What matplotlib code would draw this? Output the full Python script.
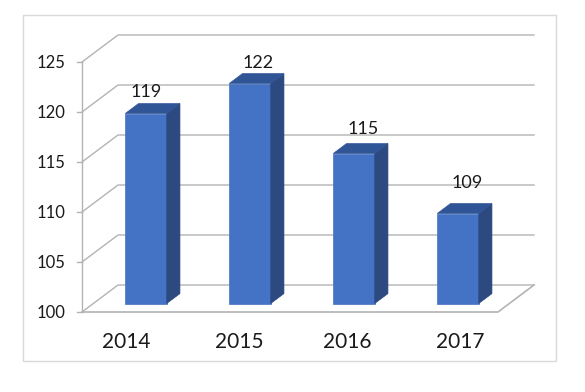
import matplotlib
matplotlib.use('Agg')
import matplotlib.pyplot as plt
from matplotlib.patches import Polygon, Rectangle

plt.rcParams['font.family'] = ['Lato', 'DejaVu Sans']

years = ['2014', '2015', '2016', '2017']
values = [119, 122, 115, 109]
y_ticks = [100, 105, 110, 115, 120, 125]

W, H = 585, 392
fig = plt.figure(figsize=(W / 100, H / 100), dpi=100)
fig.add_artist(Rectangle((22.5 / W, 1 - 361 / H), 533.5 / W, 346 / H, transform=fig.transFigure,
                         facecolor='white', edgecolor='#d9d9d9', linewidth=1, zorder=-1))

# front plane of the fake 3d box, 416 x 250 px
ax = fig.add_axes([82 / W, 1 - 312 / H, 416 / W, 250 / H])
ax.set_xlim(0, 4)
ax.set_ylim(100, 125)
ax.axis('off')

# depth offsets in data units: 104 px per category, 10 px per unit
DX = 36 / 104
DY = 27 / 10
grid_c = '#b3b3b3'


def oblique(x, y, d):
    return x + d * DX, y + d * DY


for t in y_ticks:
    x0, y0 = oblique(0, t, 1)
    x1, y1 = oblique(4, t, 1)
    ax.plot([0, x0, x1], [t, y0, y1], color=grid_c, lw=1, clip_on=False, zorder=1)
    ax.plot([-5 / 104, 0], [t, t], color=grid_c, lw=1, clip_on=False, zorder=1)
    ax.text(-17 / 104, t - 0.15, str(t), ha='right', va='center', fontsize=12, color='#1a1a1a')

# left wall edge and floor
ax.plot([0, 0], [100, 125], color=grid_c, lw=1, clip_on=False, zorder=1)
ax.plot([0, 4, oblique(4, 100, 1)[0]], [100, 100, oblique(4, 100, 1)[1]],
        color=grid_c, lw=1.2, clip_on=False, zorder=1)

# bars
bar_w = 41.5 / 104
d_front = 1 / 3
d_back = 0.70
label_dx = [0.5, 8, 9, 9]
label_dy = [12, 11, 15, 21]
year_x = [126, 239, 347.5, 460.5]
for i, (yr, v) in enumerate(zip(years, values)):
    left = i + 0.5 - bar_w / 2 + d_front * DX
    right = left + bar_w
    base = 100 + 0.85
    # front face runs from the floor level up to the value, shifted into the box
    top = base + (v - 100)
    ddx = (d_back - d_front) * DX
    ddy = (d_back - d_front) * DY
    ax.add_patch(Polygon([(left, base), (right, base), (right, top), (left, top)],
                         facecolor='#4472C4', edgecolor='#4472C4', lw=0.5, zorder=3, clip_on=False))
    ax.add_patch(Polygon([(right, base), (right + ddx, base + ddy), (right + ddx, top + ddy), (right, top)],
                         facecolor='#2C4A80', edgecolor='#2C4A80', lw=0.5, zorder=3, clip_on=False))
    ax.add_patch(Polygon([(left, top), (right, top), (right + ddx, top + ddy), (left + ddx, top + ddy)],
                         facecolor='#2F5597', edgecolor='#2F5597', lw=0.5, zorder=3, clip_on=False))
    ax.text((left + right) / 2 + label_dx[i] / 104, top + ddy + label_dy[i] / 10, str(v), ha='center',
            va='center', fontsize=13, color='#1a1a1a', zorder=4, clip_on=False)
    ax.text((year_x[i] - 82) / 104, 96.95, yr, ha='center', va='center', fontsize=15, color='#1a1a1a',
            clip_on=False)

fig.savefig('out.png', dpi=100, facecolor='white')
